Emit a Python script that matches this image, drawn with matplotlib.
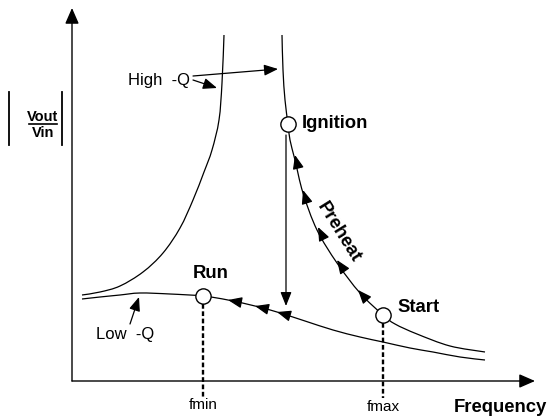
import numpy as np
import matplotlib
matplotlib.use("Agg")
import matplotlib.pyplot as plt
from matplotlib.path import Path
from matplotlib.patches import PathPatch

plt.rcParams['font.family'] = ['Liberation Sans', 'DejaVu Sans']

# Curvas (frecuencia, ganancia) en unidades arbitrarias
hq_left_f = [152, 150, 147, 140, 132, 121, 108, 91, 71, 48, 28, 10]
hq_left_g = [346, 298, 261, 231, 209, 181, 153, 128, 109, 95, 89, 86]

hq_right_f = [210, 211, 213, 216, 218, 223, 231, 245, 265, 288, 311, 323, 345, 378, 413]
hq_right_g = [346, 311, 281, 257, 241, 221, 188, 151, 118, 88, 66, 57, 47, 35, 29]

lq_f = [10, 28, 48, 68, 98, 131, 156, 183, 205, 233, 261, 288, 311, 338, 361, 388, 413]
lq_g = [82, 84, 86, 88, 87, 85, 81, 75, 69, 60, 51, 44, 39, 33, 29, 24, 21]

# Puntos de operacion
puntos = ["Ignition", "Run", "Start"]
puntos_f = [216, 131, 311]
puntos_g = [257, 85, 66]

# Flechas sobre las curvas (puntas)
preheat_f = [223, 231, 246, 265, 286]
preheat_g = [226, 191, 154, 121, 91]
run_f = [156, 183, 205]
run_g = [81, 75, 69]

fmin, fmax = 131, 311

fig = plt.figure(figsize=(5.49, 4.18), dpi=100)
ax = fig.add_axes([0, 0, 1, 1])
ax.set_xlim(-72, 477)
ax.set_ylim(-37, 381)
ax.axis('off')

lw = 0.9


def curva(cf, cg):
    # curva suave (Bezier cubica, tipo Catmull-Rom) que pasa por los puntos leidos
    p = np.column_stack([cf, cg]).astype(float)
    verts = [p[0]]
    codes = [Path.MOVETO]
    for i in range(len(p) - 1):
        p0 = p[max(i - 1, 0)]
        p1, p2 = p[i], p[i + 1]
        p3 = p[min(i + 2, len(p) - 1)]
        verts += [p1 + (p2 - p0) / 6, p2 - (p3 - p1) / 6, p2]
        codes += [Path.CURVE4] * 3
    ax.add_patch(PathPatch(Path(verts, codes), fc='none', ec='black', lw=lw))


curva(hq_left_f, hq_left_g)
curva(hq_right_f, hq_right_g)
curva(lq_f, lq_g)

# Ejes con flecha
ejes = dict(arrowstyle='-|>,head_length=0.8,head_width=0.35', color='black',
            lw=1.0, mutation_scale=12, shrinkA=0, shrinkB=0)
ax.annotate('', xy=(0, 373), xytext=(0, 0), arrowprops=ejes)
ax.annotate('', xy=(463, 0), xytext=(0, 0), arrowprops=ejes)

flecha = dict(arrowstyle='-|>,head_length=0.7,head_width=0.28', color='black',
              lw=lw, mutation_scale=12, shrinkA=0, shrinkB=0)


def flecha_curva(fx, gy, cf, cg):
    # direccion local de la curva, hacia frecuencias altas (la flecha apunta al reves)
    cf = np.array(cf, float)
    cg = np.array(cg, float)
    i = np.argmin((cf - fx) ** 2 + (cg - gy) ** 2)
    a, b = max(i - 1, 0), min(i + 1, len(cf) - 1)
    d = np.array([cf[b] - cf[a], cg[b] - cg[a]])
    if d[0] < 0:
        d = -d
    d = d / np.hypot(*d)
    ax.annotate('', xy=(fx, gy), xytext=(fx + 10 * d[0], gy + 10 * d[1]),
                arrowprops=flecha)


for fx, gy in zip(preheat_f, preheat_g):
    flecha_curva(fx, gy, hq_right_f, hq_right_g)
for fx, gy in zip(run_f, run_g):
    flecha_curva(fx, gy, lq_f, lq_g)

# Caida de Ignition a Run
ax.annotate('', xy=(214, 75), xytext=(214, 246), arrowprops=flecha)

# Lineas discontinuas fmin / fmax
ax.plot([fmin, fmin], [77, -16], color='black', lw=1.7, ls=(0, (2, 1.1)))
ax.plot([fmax, fmax], [58, -17], color='black', lw=1.7, ls=(0, (2, 1.1)))
ax.text(fmin, -24, "fmin", ha='center', va='center', fontsize=11)
ax.text(fmax, -26, "fmax", ha='center', va='center', fontsize=11)

ax.plot(puntos_f, puntos_g, 'o', ms=11, mfc='white', mec='black', mew=1.0, zorder=5)
ax.text(230, 257, "Ignition", ha='left', va='center', fontsize=13.3, fontweight='bold')
ax.text(139, 107, "Run", ha='center', va='center', fontsize=13.3, fontweight='bold')
ax.text(325, 73, "Start", ha='left', va='center', fontsize=13.3, fontweight='bold')
ax.text(267, 149, "Preheat", ha='center', va='center', fontsize=13.3,
        fontweight='bold', rotation=-58)
ax.text(475, -26, "Frequency", ha='right', va='center', fontsize=13.3, fontweight='bold')

# Etiquetas High-Q / Low-Q
ax.text(56, 300, "High  -Q", ha='left', va='center', fontsize=12)
ax.annotate('', xy=(206, 312), xytext=(121, 305), arrowprops=flecha)
ax.annotate('', xy=(145, 293), xytext=(121, 301), arrowprops=flecha)
ax.text(53, 46, "Low  -Q", ha='center', va='center', fontsize=12)
ax.annotate('', xy=(67, 84), xytext=(58, 57), arrowprops=flecha)

# |Vout / Vin|
ax.plot([-63, -63], [236, 289], color='black', lw=1.3, clip_on=False)
ax.plot([-10, -10], [236, 289], color='black', lw=1.3, clip_on=False)
ax.plot([-43, -15], [257, 257], color='black', lw=1.2)
ax.text(-29, 264, "Vout", ha='center', va='center', fontsize=10.5, fontweight='bold')
ax.text(-29, 248, "Vin", ha='center', va='center', fontsize=10.5, fontweight='bold')

fig.savefig("out.png", dpi=100)
